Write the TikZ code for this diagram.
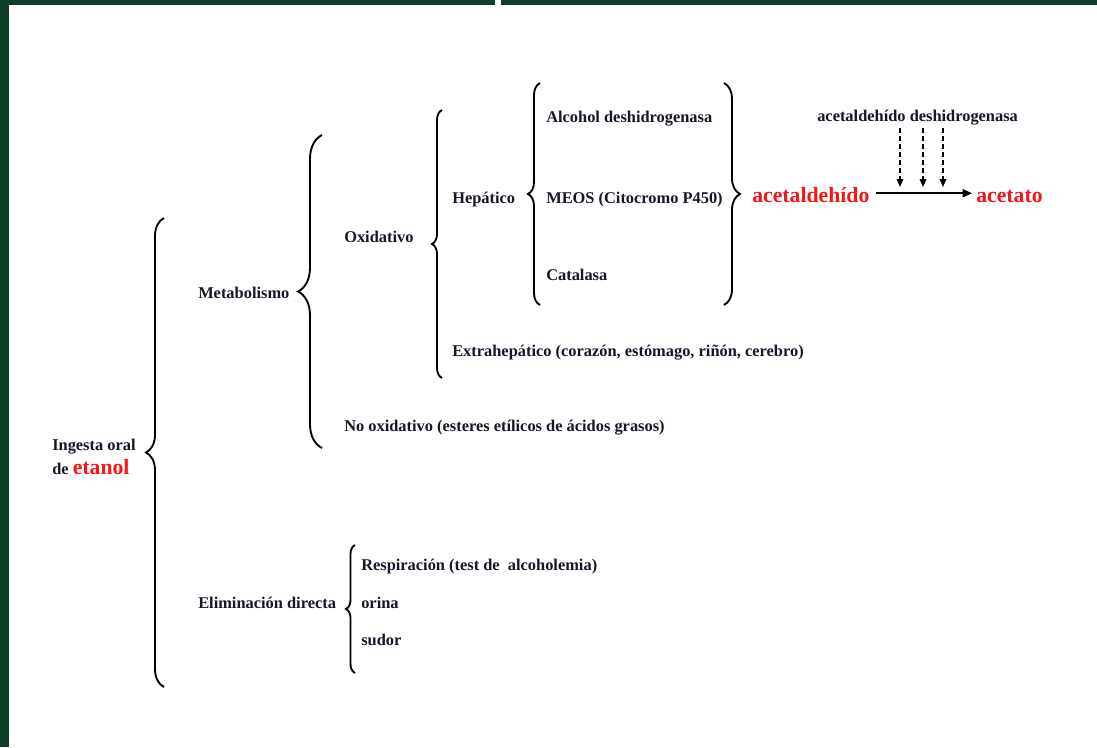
\documentclass[tikz,border=0pt]{standalone}
\usepackage{fontspec}
\setmainfont{Liberation Serif}
\usetikzlibrary{decorations.pathreplacing,arrows.meta}
\definecolor{bgreen}{RGB}{14,62,40}
\definecolor{txt}{RGB}{22,22,40}
\definecolor{redt}{RGB}{250,20,20}
\begin{document}
\begin{tikzpicture}[x=0.75pt,y=-0.75pt,
  lbl/.style={anchor=base west,inner sep=0pt,text=txt,font=\fontsize{12.3}{14}\selectfont\bfseries},
  redl/.style={anchor=base west,inner sep=0pt,text=redt,font=\fontsize{16.3}{19}\selectfont\bfseries},
  brc/.style={decorate,draw=black,line width=1.4pt},
  dsh/.style={draw=black,line width=1pt,dash pattern=on 3.75pt off 2.25pt,shorten <=2.5pt,-{Triangle[length=6pt,width=5pt]}},
  mainarr/.style={draw=black,line width=1.3pt,-{Triangle[length=7pt,width=6pt]}}
  ]
\useasboundingbox (0,0) rectangle (1097,747);
\fill[bgreen] (0,0) rectangle (8.5,747);
\fill[bgreen] (0,0) rectangle (494.5,5);
\fill[bgreen] (501,0) rectangle (1097,5);

% labels
\node[lbl] (ing) at (52,450) {Ingesta oral};
\node[lbl] (de) at (52,474) {de \textcolor{redt}{\fontsize{16.3}{19}\selectfont etanol}};
\node[lbl] (met) at (198,298) {Metabolismo};
\node[lbl] (elim) at (198,608) {Eliminación directa};
\node[lbl] (oxi) at (344,242) {Oxidativo};
\node[lbl] (nox) at (344,431) {No oxidativo (esteres etílicos de ácidos grasos)};
\node[lbl] (hep) at (452,203) {Hepático};
\node[lbl] (ext) at (452,356) {Extrahepático (corazón, estómago, riñón, cerebro)};
\node[lbl] (adh) at (546,122) {Alcohol deshidrogenasa};
\node[lbl] (meos) at (546,203) {MEOS (Citocromo P450)};
\node[lbl] (cat) at (546,280) {Catalasa};
\node[lbl] (resp) at (361,570) {Respiración (test de\ \ alcoholemia)};
\node[lbl] (ori) at (361,608) {orina};
\node[lbl] (sud) at (361,645) {sudor};
\node[redl] (ald) at (752,202) {acetaldehído};
\node[redl] (ace) at (976,202) {acetato};
\node[lbl] (enz) at (817,121) {acetaldehído deshidrogenasa};

% braces
\draw[brc,decoration={brace,amplitude=13.5pt}] (164,687) -- (164,218);
\draw[brc,decoration={brace,amplitude=18pt}] (322,448) -- (322,135);
\draw[brc,decoration={brace,amplitude=7.5pt}] (442,378) -- (442,110);
\draw[brc,decoration={brace,amplitude=9pt}] (540,305) -- (540,83);
\draw[brc,decoration={brace,amplitude=12pt}] (724,83) -- (724,305);
\draw[brc,decoration={brace,amplitude=6.75pt}] (355,673) -- (355,545);

% arrows
\coordinate (d1) at (900,187);
\coordinate (d2) at (923,187);
\coordinate (d3) at (943,187);
\draw[dsh] (enz.south -| d1) -- (d1);
\draw[dsh] (enz.south -| d2) -- (d2);
\draw[dsh] (enz.south -| d3) -- (d3);
\coordinate (aend) at (ald.east -| ace.west);
\draw[mainarr,shorten >=3pt] ([xshift=5pt,yshift=1pt]ald.east) -- ([yshift=1pt]aend);
\end{tikzpicture}
\end{document}
